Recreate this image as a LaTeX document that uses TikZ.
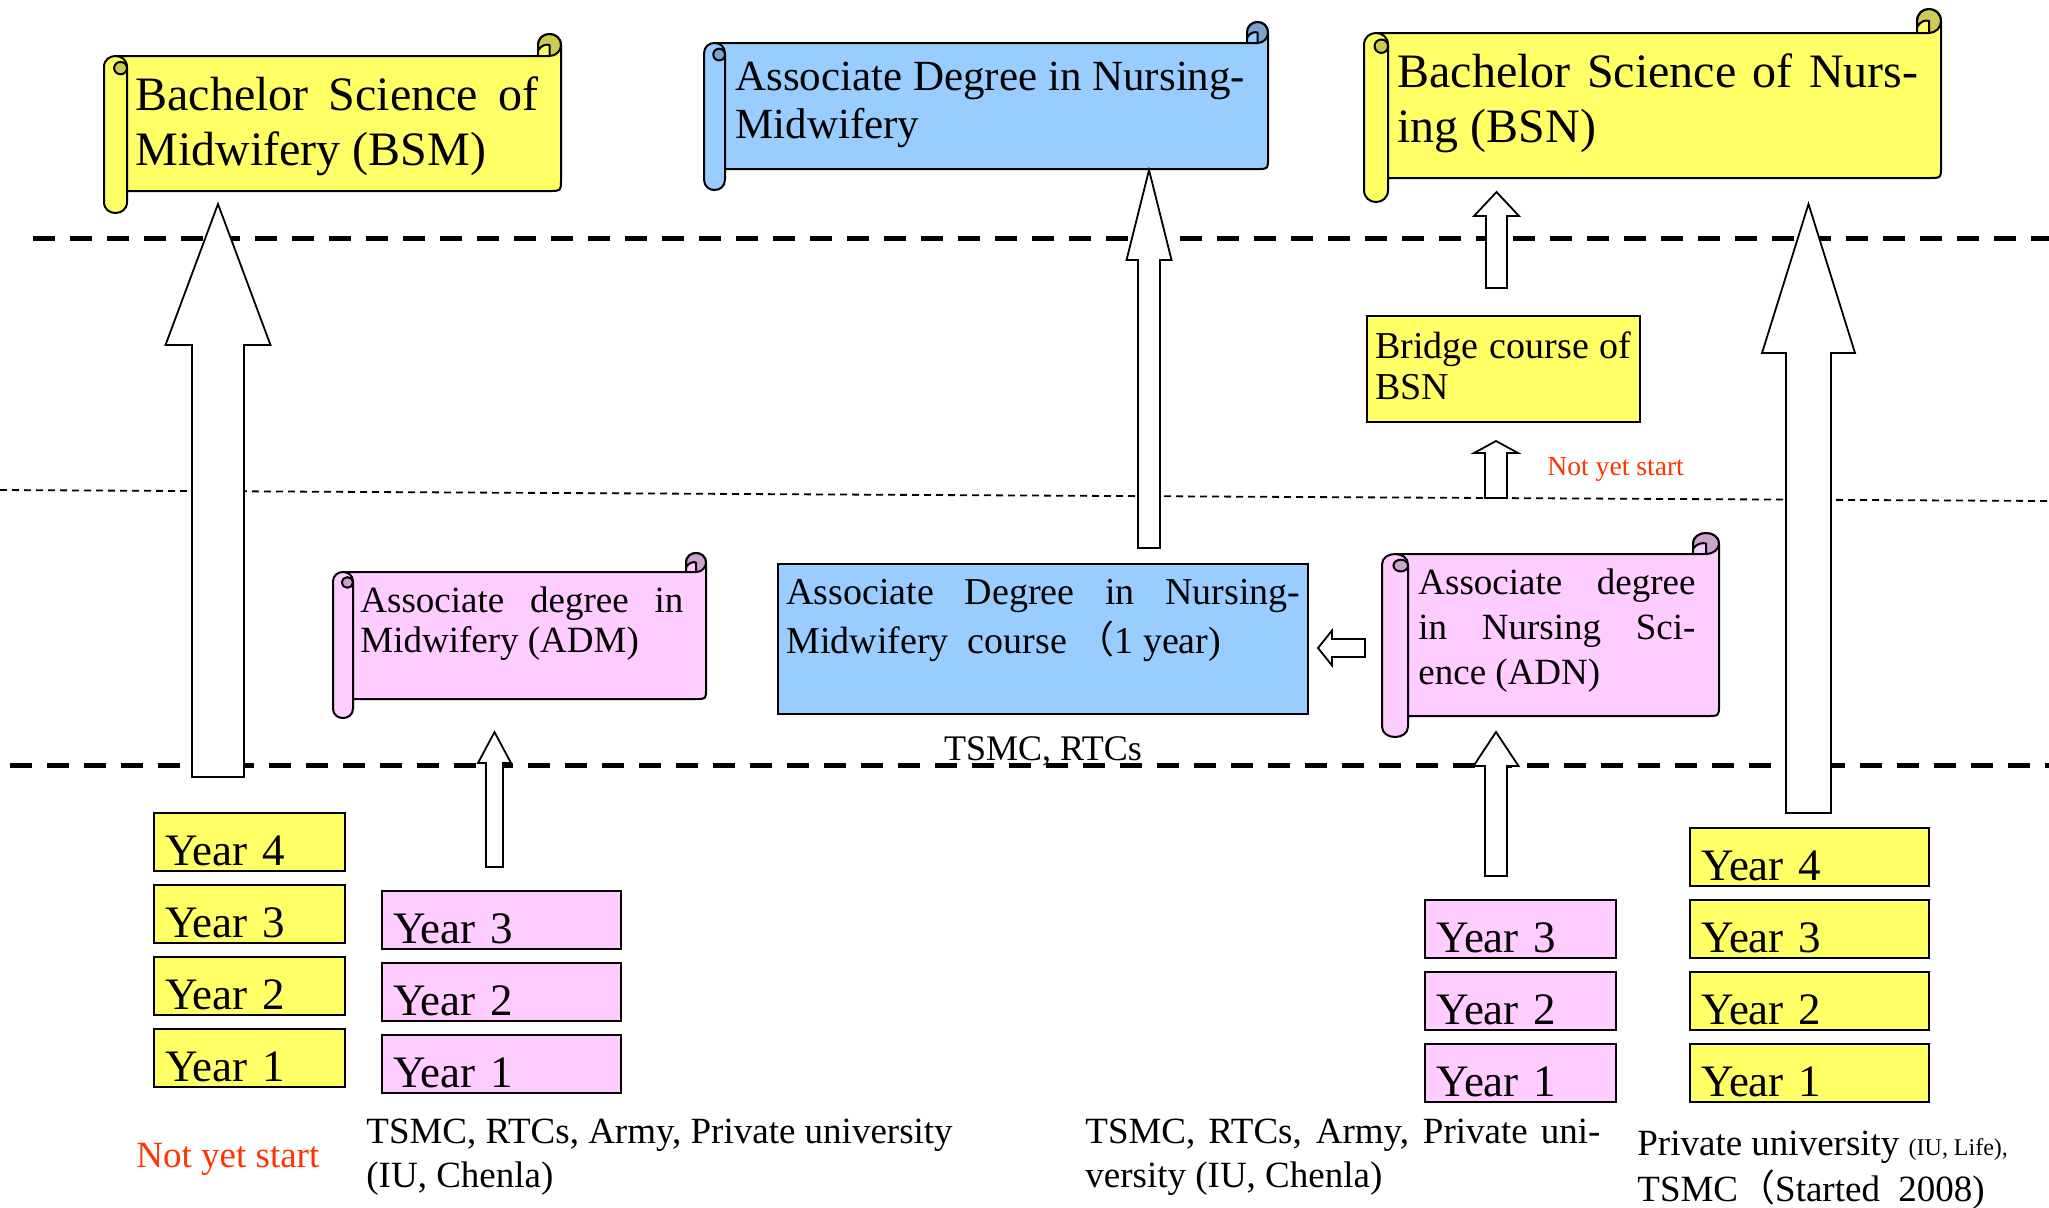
\documentclass[tikz,border=0pt]{standalone}
\usepackage{fontspec}
\setmainfont{Liberation Serif}
\newfontfamily\cjk{Noto Sans CJK SC}
\definecolor{ylw}{HTML}{FFFF66}
\definecolor{ylwd}{HTML}{CCCC52}
\definecolor{pnk}{HTML}{FFCCFF}
\definecolor{pnkd}{HTML}{CCA3CC}
\definecolor{blu}{HTML}{99CCFF}
\definecolor{blud}{HTML}{7AA3CC}
\definecolor{redtxt}{HTML}{FF3300}

\tikzset{
  scrollline/.style={draw=black, line width=1pt, line join=round},
  bigdash/.style={line width=2.5pt, dash pattern=on 11pt off 7.5pt},
  thindash/.style={line width=0.9pt, dash pattern=on 3.5pt off 2.5pt},
  blockarrow/.style={draw=black, fill=white, line width=0.9pt, line join=miter},
  txt/.style={anchor=north west, inner sep=0pt},
  yearbox/.style={draw=black, line width=1pt, inner xsep=5.5pt, inner ysep=0pt,
    text height=26.25pt, text depth=2.75pt, anchor=north west,
    font=\fontsize{22.5}{27}\selectfont, align=left},
  narrowbox/.style={yearbox, text width=84.5pt},
  widebox/.style={yearbox, text width=108.5pt},
  plainbox/.style={draw=black, line width=0.9pt, anchor=north west, inner sep=0pt},
}

% L T R B dx dy fill dark
\newcommand\scrollshape[8]{%
  \draw[scrollline, fill=#7] ({#1+#5/2},{#2+#6}) -- ({#3-#5},{#2+#6}) -- ({#3-#5},{#2+#6/2})
    .. controls ({#3-#5},{#2-#6/6}) and ({#3},{#2-#6/6}) .. ({#3},{#2+#6/2})
    -- ({#3},{#4-#6*1.5}) .. controls ({#3},{#4-#6}) .. ({#3-#5/2},{#4-#6})
    -- ({#1+#5/2},{#4-#6}) -- cycle;
  \draw[scrollline, fill=#8] ({#3-#5/2},{#2+#6/2}) ellipse [x radius=#5*0.25pt, y radius=#6*0.25pt];
  \draw[scrollline, fill=#7] ({#3-#5/2},{#2+#6/2}) -- ({#3-#5/2},{#2+#6}) -- ({#3-#5},{#2+#6})
    -- ({#3-#5},{#2+#6*0.75}) .. controls ({#3-#5*0.85},{#2+#6*0.5}) and ({#3-#5*0.65},{#2+#6*0.45}) .. ({#3-#5/2},{#2+#6/2}) -- cycle;
  \draw[scrollline, fill=#7] ({#1+#5},{#2+#6*1.5}) -- ({#1+#5},{#4-#6/2})
    .. controls ({#1+#5},{#4+#6/6}) and ({#1},{#4+#6/6}) .. ({#1},{#4-#6/2})
    -- ({#1},{#2+#6*1.5})
    .. controls ({#1},{#2+#6*5/6}) and ({#1+#5},{#2+#6*5/6}) .. ({#1+#5},{#2+#6*1.5}) -- cycle;
  \draw[scrollline, fill=#8] ({#1+#5*0.72},{#2+#6*1.55}) ellipse [x radius=#5*0.14pt, y radius=#6*0.14pt];
}

% cx tip headbase bottom shafthalf headhalf
\newcommand\blockup[6]{%
  \draw[blockarrow] (#1,#2) -- ({#1+#6},#3) -- ({#1+#5},#3) -- ({#1+#5},#4)
    -- ({#1-#5},#4) -- ({#1-#5},#3) -- ({#1-#6},#3) -- cycle;
}

\begin{document}
\begin{tikzpicture}[x=0.5pt,y=-0.5pt]
\useasboundingbox (0,0) rectangle (2049,1207);

% level lines
\draw[bigdash] (33,238) -- (2049,238);
\draw[thindash] (0,490) -- (2049,501);
\draw[bigdash] (10,765) -- (2049,765);

% scrolls
\scrollshape{104}{34}{561}{213}{23}{22}{ylw}{ylwd}
\scrollshape{704}{22}{1268}{190}{21}{21}{blu}{blud}
\scrollshape{1364}{9}{1941}{202}{24}{24}{ylw}{ylwd}
\scrollshape{333}{553}{706}{718}{20}{19}{pnk}{pnkd}
\scrollshape{1382}{533}{1719}{737}{26}{21}{pnk}{pnkd}

\node[txt, font=\fontsize{24}{27.5}\selectfont, text width=201.5pt, align=justify] (bsm) at (135,71.5)
  {\strut Bachelor Science of\linebreak Midwifery (BSM)};
\node[txt, font=\fontsize{21.5}{24}\selectfont, align=left] (adnm) at (735,56.4)
  {\strut Associate Degree in Nursing-\\Midwifery};
\node[txt, font=\fontsize{24}{27.5}\selectfont, text width=260.5pt, align=justify] (bsn) at (1397,48.5)
  {\strut Bachelor Science of Nurs-\linebreak ing (BSN)};
\node[txt, font=\fontsize{18.5}{20}\selectfont, text width=161.5pt, align=justify] (adm) at (360,584)
  {\strut Associate degree in\linebreak Midwifery (ADM)};
\node[txt, font=\fontsize{18.5}{22.5}\selectfont, text width=138.5pt, align=justify] (adn) at (1418,562.5)
  {\strut Associate degree\linebreak in Nursing Sci-\linebreak ence (ADN)};

% rectangles
\node[plainbox, fill=blu, minimum width=265pt, minimum height=75pt] (course) at (777,563) {};
\node[txt, font=\fontsize{19}{24.5}\selectfont, text width=257pt, align=justify] (coursetext) at (786,570)
  {\strut Associate Degree in Nursing-\linebreak Midwifery\ \ course {\cjk （}1 year)};
\node[plainbox, fill=ylw, minimum width=136.5pt, minimum height=53pt] (bridge) at (1366,315) {};
\node[txt, font=\fontsize{19}{20.5}\selectfont, text width=128pt, align=justify] (bridgetext) at (1375,329.3)
  {\strut Bridge course of\linebreak BSN};

% year boxes
\node[narrowbox, fill=ylw] (a4) at (153,812) {Year 4};
\node[narrowbox, fill=ylw] (a3) at (153,884) {Year 3};
\node[narrowbox, fill=ylw] (a2) at (153,956) {Year 2};
\node[narrowbox, fill=ylw] (a1) at (153,1028) {Year 1};
\node[widebox, fill=pnk] (b3) at (381,890) {Year 3};
\node[widebox, fill=pnk] (b2) at (381,962) {Year 2};
\node[widebox, fill=pnk] (b1) at (381,1034) {Year 1};
\node[narrowbox, fill=pnk] (c3) at (1424,899) {Year 3};
\node[narrowbox, fill=pnk] (c2) at (1424,971) {Year 2};
\node[narrowbox, fill=pnk] (c1) at (1424,1043) {Year 1};
\node[widebox, fill=ylw] (d4) at (1689,827) {Year 4};
\node[widebox, fill=ylw] (d3) at (1689,899) {Year 3};
\node[widebox, fill=ylw] (d2) at (1689,971) {Year 2};
\node[widebox, fill=ylw] (d1) at (1689,1043) {Year 1};

% block arrows
\blockup{218}{204}{345}{777}{26}{52.5}
\blockup{1149}{170}{260}{548}{11}{22.5}
\blockup{1496.5}{192}{216}{288}{10.5}{22.5}
\blockup{1496}{441}{453}{498}{11}{22}
\blockup{494.5}{732}{763}{867}{8.5}{16.5}
\blockup{1496}{732}{766}{876}{11}{22.5}
\blockup{1808.5}{204}{353}{813}{22.5}{46.5}
\draw[blockarrow] (1318,648) -- (1332,630.5) -- (1332,639) -- (1365,639) -- (1365,657)
  -- (1332,657) -- (1332,665.5) -- cycle;

% labels
\node[anchor=base, inner sep=0pt, font=\fontsize{18}{21}\selectfont] (tsmc) at (1043,760) {TSMC, RTCs};
\node[anchor=base west, inner sep=0pt, font=\fontsize{13.8}{16}\selectfont, text=redtxt] (nys1) at (1547,475) {Not yet start};
\node[anchor=base west, inner sep=0pt, font=\fontsize{18.5}{22}\selectfont, text=redtxt] (nys2) at (136,1167) {Not yet start};
\node[txt, font=\fontsize{18.5}{22}\selectfont, align=left] (src1) at (366,1112.2)
  {\strut TSMC, RTCs, Army, Private university\\(IU, Chenla)};
\node[txt, font=\fontsize{18.5}{22}\selectfont, text width=257.5pt, align=justify] (src2) at (1085,1112.2)
  {\strut TSMC, RTCs, Army, Private uni-\linebreak versity (IU, Chenla)};
\node[txt, font=\fontsize{18.5}{21}\selectfont, align=left] (src3) at (1637,1125.6)
  {\strut Private university {\fontsize{12}{14}\selectfont (IU, Life),}\\TSMC{\cjk （}Started\ \ 2008)};
\end{tikzpicture}
\end{document}
